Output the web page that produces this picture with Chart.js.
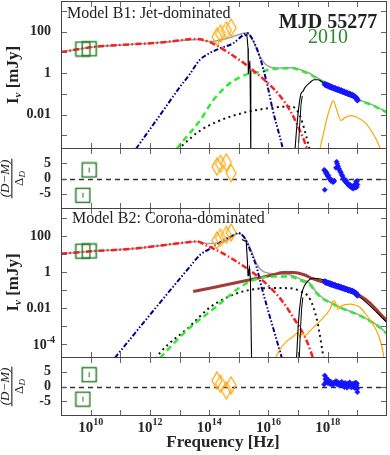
<!DOCTYPE html>
<html><head><meta charset="utf-8">
<script src="https://cdn.jsdelivr.net/npm/chart.js@4.4.1/dist/chart.umd.min.js"></script>
<style>
html,body{margin:0;padding:0;background:#fff;}
#wrap{position:relative;width:390px;height:455px;overflow:hidden;background:#fff;}
canvas{position:absolute;left:0;}
</style></head><body>
<div id="wrap">
<canvas id="c1" width="390" height="150" style="top:0px"></canvas>
<canvas id="c2" width="390" height="64" style="top:146px"></canvas>
<canvas id="c3" width="390" height="153" style="top:206px"></canvas>
<canvas id="c4" width="390" height="100" style="top:355px"></canvas>
</div>
<script>
// ---------- data (log10 frequency [Hz], log10 flux [mJy]) ----------
// Model B1 components
const b1GrayNu  = [9.0, 10.08, 11.33, 12.34, 13.18, 13.6, 14.03, 14.36, 14.70, 15.04, 15.28, 15.48, 15.71, 15.88, 16.05, 16.39, 16.83, 17.06, 17.40, 17.74, 18.41, 19.09, 19.53, 20.0];
const b1GrayF   = [1.01, 1.26, 1.38, 1.47, 1.59, 1.62, 1.52, 1.58, 1.71, 1.87, 1.94, 1.55, 0.80, 0.45, 0.30, 0.25, 0.26, 0.17, -0.02, -0.30, -0.82, -1.30, -1.54, -1.88];
const b1RedNu   = [9.0, 10.08, 11.33, 12.34, 13.01, 13.3, 13.6, 14.13, 14.70, 15.27, 15.94, 16.39, 16.73, 17.16, 17.4];
const b1RedF    = [1.01, 1.26, 1.38, 1.47, 1.58, 1.63, 1.64, 1.42, 0.94, 0.37, -0.43, -1.10, -1.80, -3.09, -4.0];
const b1NavyNu  = [11.53, 12.34, 13.01, 13.35, 13.69, 14.03, 14.36, 14.80, 15.14, 15.28, 15.48, 15.71, 15.95, 16.15, 16.39, 16.52];
const b1NavyF   = [-3.64, -2.02, -0.67, -0.04, 0.65, 0.97, 1.19, 1.43, 1.82, 1.93, 1.58, 0.77, -0.50, -1.80, -3.09, -3.82];
const b1GreenNu = [12.91, 13.08, 13.69, 14.13, 14.60, 15.04, 15.38, 15.71, 16.05, 16.39, 16.83, 17.06, 17.40, 17.74, 18.41, 19.09, 19.53, 20.0];
const b1GreenF  = [-3.64, -3.33, -2.28, -1.32, -0.60, -0.19, -0.01, 0.05, 0.18, 0.23, 0.23, 0.13, -0.06, -0.35, -0.84, -1.32, -1.56, -1.90];
const b1DotNu   = [13.08, 13.69, 14.36, 15.04, 15.71, 16.39, 16.79, 17.06, 17.27, 17.40];
const b1DotF    = [-3.49, -2.77, -2.28, -1.95, -1.75, -1.63, -1.61, -2.04, -3.01, -3.73];
const b1BlkANu  = [15.20, 15.27, 15.31, 15.32, 15.35, 15.37, 15.38, 15.40, 15.41];
const b1BlkAF   = [1.77, 1.88, 1.2, -0.03, 0.45, 0.6, 0.1, -0.5, -4.0];
const b1BlkBNu  = [16.89, 16.96, 17.03, 17.10, 17.16, 17.23, 17.40, 17.54, 17.67, 17.84, 17.95];
const b1BlkBF   = [-3.8, -2.52, -1.56, -0.98, -0.89, -0.70, -0.45, -0.32, -0.32, -0.45, -0.58];
const b1BlkCNu  = [17.00, 17.05, 17.10, 17.14];
const b1BlkCF   = [-3.8, -2.6, -1.5, -1.1];
const b1OrNu    = [17.0, 17.70, 17.84, 17.97, 18.08, 18.19, 18.31, 18.45, 18.58, 18.78, 18.99, 19.26, 19.49, 19.66, 19.80];
const b1OrF     = [-3.9, -3.73, -3.01, -2.19, -1.66, -1.32, -1.80, -2.28, -2.14, -2.04, -2.12, -2.38, -2.82, -3.25, -3.73];

// Model B2 components
const b2GrayNu  = [9.0, 10.0, 11.44, 12.9, 13.35, 13.6, 13.92, 14.48, 14.81, 14.98, 15.21, 15.43, 15.60, 15.77, 16.05, 16.50, 16.84, 17.06, 17.40, 17.60, 17.85, 18.08, 18.30, 18.64, 19.0, 19.31, 19.76, 20.0];
const b2GrayF   = [1.02, 1.15, 1.30, 1.58, 1.67, 1.69, 1.58, 1.67, 2.0, 2.14, 1.88, 1.15, 0.45, 0.1, -0.08, -0.12, -0.2, -0.38, -0.62, -1.08, -1.46, -1.66, -1.85, -2.10, -2.33, -2.59, -3.05, -3.42];
const b2RedNu   = [9.0, 10.0, 11.44, 12.9, 13.35, 13.6, 13.85, 14.14, 14.48, 15.04, 15.60, 16.05, 16.50, 16.84, 17.12, 17.34, 17.51];
const b2RedF    = [1.02, 1.15, 1.30, 1.58, 1.67, 1.70, 1.52, 1.30, 1.02, 0.46, -0.19, -0.84, -1.68, -2.52, -3.26, -4.0, -4.8];
const b2NavyNu  = [10.82, 12.0, 13.35, 13.69, 14.03, 14.48, 14.81, 14.98, 15.21, 15.43, 15.60, 15.77, 15.99, 16.22, 16.45];
const b2NavyF   = [-4.75, -2.37, 0.30, 0.95, 1.30, 1.76, 2.04, 2.17, 1.85, 1.02, 0.27, -0.84, -2.14, -3.44, -4.75];
const b2GreenNu = [12.34, 13.35, 13.92, 14.48, 15.04, 15.60, 16.16, 16.73, 17.06, 17.40, 17.60, 17.85, 18.08, 18.30, 18.64, 19.0, 19.31, 19.76, 20.0];
const b2GreenF  = [-4.75, -3.07, -2.33, -1.59, -0.84, -0.38, -0.25, -0.25, -0.45, -0.70, -1.12, -1.49, -1.68, -1.87, -2.12, -2.35, -2.61, -3.07, -3.44];
const b2DotNu   = [12.2, 12.34, 13.35, 13.69, 14.03, 14.48, 15.04, 15.60, 16.28, 16.73, 17.06, 17.40, 17.63, 17.74, 17.83, 17.87];
const b2DotF    = [-4.8, -4.47, -3.0, -2.45, -1.95, -1.5, -1.12, -0.93, -0.88, -0.90, -1.05, -1.49, -2.6, -3.54, -4.47, -4.8];
const b2BrownNu = [13.46, 15.38, 16.16, 16.5, 16.84, 17.2, 17.51, 18.08, 18.5, 19.09, 19.42, 19.76, 20.0];
const b2BrownF  = [-1.08, -0.43, -0.15, -0.03, -0.03, -0.15, -0.38, -0.66, -0.9, -1.31, -1.7, -2.3, -2.7];
const b2BlkANu  = [15.10, 15.25, 15.29, 15.31, 15.34, 15.36, 15.39, 15.43];
const b2BlkAF   = [1.80, 1.70, 0.6, -0.2, 0.1, 0.25, -0.3, -4.8];
const b2BlkBNu  = [16.93, 16.95, 17.01, 17.09, 17.17, 17.29, 17.51, 17.8, 18.08, 18.5, 19.09, 19.54, 20.0];
const b2BlkBF   = [-4.8, -4.65, -2.8, -1.49, -0.93, -0.57, -0.34, -0.40, -0.55, -0.88, -1.40, -2.05, -2.80];
const b2BlkCNu  = [17.04, 17.08, 17.12, 17.16];
const b2BlkCF   = [-4.8, -3.2, -2.0, -1.4];
const b2OrNu    = [16.22, 16.39, 16.61, 16.84, 17.01, 17.06, 17.15, 17.23, 17.40, 17.63, 17.85, 18.08, 18.19, 18.25, 18.36, 18.47, 18.75, 19.09, 19.37, 19.59, 19.76, 19.87, 19.90];
const b2OrF     = [-4.8, -4.28, -3.84, -3.56, -3.35, -3.63, -3.35, -3.54, -3.26, -2.89, -2.52, -2.05, -1.59, -1.65, -2.05, -1.87, -1.77, -1.96, -2.52, -3.07, -3.72, -4.47, -4.8];

// Observed data
const radioNu = [9.74, 9.95];
const radioF  = [1.16, 1.17];
const radioR1 = [-5.5, 2.8];
const radioR2 = [-4.3, 4.0];
const oirNu = [14.26, 14.38, 14.58, 14.74];
const oirF  = [1.75, 1.90, 2.06, 2.19];
const oirR1 = [3.9, 4.8, 5.3, 1.8];
const oirR2 = [2.0, 0.9, -1.3, 0.4];
const xrNu = [17.90, 17.93, 17.96, 17.99, 18.02, 18.05, 18.08, 18.10, 18.13, 18.16, 18.19, 18.22, 18.25, 18.28, 18.31, 18.34, 18.37, 18.40, 18.43, 18.46, 18.49, 18.52, 18.55, 18.58, 18.61, 18.64, 18.67, 18.70, 18.73, 18.76, 18.79, 18.82, 18.85, 18.88, 18.91, 18.94, 18.96, 18.98, 19.00];
const xrF  = [-0.52, -0.58, -0.56, -0.61, -0.60, -0.65, -0.63, -0.67, -0.69, -0.68, -0.72, -0.74, -0.73, -0.77, -0.78, -0.80, -0.79, -0.83, -0.85, -0.84, -0.88, -0.90, -0.89, -0.93, -0.95, -0.94, -0.98, -1.00, -0.99, -1.03, -1.05, -1.04, -1.08, -1.10, -1.13, -1.16, -1.20, -1.24, -1.30];
const xrResNu = [17.88, 17.90, 17.92, 17.94, 17.96, 17.98, 18.00, 18.02, 18.05, 18.08, 18.11, 18.14, 18.18, 18.22,
                 18.28, 18.30, 18.32, 18.35, 18.38, 18.41, 18.44, 18.47, 18.50, 18.53, 18.56, 18.59, 18.62, 18.65, 18.68, 18.71, 18.74, 18.77, 18.80, 18.83, 18.86, 18.89, 18.91, 18.93, 18.95, 18.96, 18.97, 18.98, 18.99, 19.00];
const xrR1 = [2.8, -3.7, 2.4, 1.8, 2.0, 1.2, 0.8, 1.0, 0.2, -0.3, -0.8, -0.5, -1.2, -0.8,
              3.5, 5.5, 4.8, 4.0, 3.2, 2.5, 2.0, 1.2, 0.8, 0.0, -0.5, -1.0, -0.6, -1.5, -2.0, -1.8, -2.5, -2.2, -3.0, -2.6, -3.3, -2.8, -2.0, -3.0, -2.4, -1.0, -1.8, -2.8, -0.8, -2.0];
const xrR2 = [0.7, 3.7, 2.5, 1.5, 2.8, 1.8, 1.2, 2.2, 1.5, 0.8, 1.6, 1.0, 0.5, 1.4,
              1.8, 0.9, 1.5, 0.6, 1.2, 0.3, 1.0, 1.6, 0.4, 0.9, -0.2, 1.2, 0.5, -0.4, 1.0, 0.2, 1.4, 0.6, -0.3, 0.8, 0.1, 1.1, -0.5, 0.7, 1.3, -0.2, 0.4, 1.0, -0.8, -1.9];

// Axis settings (exponents)
const xLo = 9, xHi = 20;
const xTickExps = [10, 11, 12, 13, 14, 15, 16, 17, 18, 19];
const xLabelExps = [10, 12, 14, 16, 18];
const y1Lo = -3.65, y1Hi = 3.47;
const y1TickExps = [-3, -2, -1, 0, 1, 2, 3];
const y2Lo = -4.76, y2Hi = 3.55;
const y2TickExps = [-4, -3, -2, -1, 0, 1, 2, 3];
const yLabels1 = {2: '100', 0: '1', '-2': '0.01'};
const yLabels2 = {2: '100', 0: '1', '-2': '0.01'};
const resTicks = [-5, 0, 5];

// ---------- helpers ----------
const SERIF = '"Liberation Serif", "DejaVu Serif", serif';
const P = (nu, f) => nu.map((v, i) => ({x: Math.pow(10, v), y: Math.pow(10, f[i])}));
const R = (nu, r) => nu.map((v, i) => ({x: Math.pow(10, v), y: r[i]}));
function line(data, color, width, dash, smooth) {
  return {data, borderColor: color, backgroundColor: color, borderWidth: width, borderDash: dash || [],
          pointRadius: 0, fill: false, showLine: true,
          cubicInterpolationMode: smooth === false ? 'default' : 'monotone', tension: 0};
}
function pts(data, style, radius, color) {
  return {data, showLine: false, pointStyle: style, pointRadius: radius, pointHoverRadius: radius,
          borderColor: color, backgroundColor: color, pointBorderWidth: 0.6};
}
function mk(w, h, draw) { const c = document.createElement('canvas'); c.width = w; c.height = h; draw(c.getContext('2d'), w, h); return c; }
const GREEN_SQ = '#1f7a1f', ORANGE = '#ffa500', XBLUE = '#1515ff';
const sqMain = mk(17, 17, g => { g.strokeStyle = GREEN_SQ; g.lineWidth = 1.4; g.strokeRect(1.5, 1.5, 14, 14); });
const sqRes = mk(17, 17, g => { g.strokeStyle = GREEN_SQ; g.lineWidth = 1.4; g.strokeRect(1.5, 1.5, 14, 14);
  g.lineWidth = 1; g.beginPath(); g.moveTo(8.5, 6); g.lineTo(8.5, 11); g.stroke(); });
const diamond = mk(12, 19, (g, w, h) => { g.strokeStyle = ORANGE; g.lineWidth = 1.2; g.beginPath();
  g.moveTo(w / 2, 1); g.lineTo(w - 1, h / 2); g.lineTo(w / 2, h - 1); g.lineTo(1, h / 2); g.closePath(); g.stroke(); });

const C_RED = '#ff1c1c', C_NAVY = '#00008f', C_GREEN = '#30ec30', C_GRAY = '#a3a3a3', C_BROWN = '#a33a36';
const DASH_RED = [6, 2.5, 1.5, 2.5], DASH_NAVY = [5, 2, 1.5, 2, 1.5, 2], DASH_GREEN = [6, 4], DASH_DOT = [2, 3.5];

function mainSets(m) {
  const list = [];
  list.push(line(P(m.grayNu, m.grayF), C_GRAY, 1.6, []));
  if (m.brownNu) list.push(line(P(m.brownNu, m.brownF), C_BROWN, 3, []));
  list.push(line(P(m.dotNu, m.dotF), '#111', 2, DASH_DOT));
  list.push(line(P(m.greenNu, m.greenF), C_GREEN, 2.5, DASH_GREEN));
  list.push(line(P(m.navyNu, m.navyF), C_NAVY, 2, DASH_NAVY));
  list.push(line(P(m.redNu, m.redF), C_RED, 2.5, DASH_RED));
  list.push(line(P(m.orNu, m.orF), ORANGE, 1.2, []));
  list.push(line(P(m.bANu, m.bAF), '#000', 1.1, [], false));
  list.push(line(P(m.bBNu, m.bBF), '#000', 1.1, [], true));
  list.push(line(P(m.bCNu, m.bCF), '#000', 1.0, [], false));
  list.push(pts(P(radioNu, radioF), sqMain, 6, GREEN_SQ));
  list.push(pts(P(oirNu, oirF), diamond, 6, ORANGE));
  list.push(pts(P(xrNu, xrF), 'rectRot', 3, XBLUE));
  return list.reverse();
}
function resSets(r) {
  const list = [];
  list.push(pts(R(radioNu, r.radio), sqRes, 6, GREEN_SQ));
  list.push(pts(R(oirNu, r.oir), diamond, 6, ORANGE));
  list.push(pts(R(xrResNu, r.xr), 'rectRot', 2.6, XBLUE));
  return list.reverse();
}

function drawRot(ctx, bx, cy, parts) {
  ctx.save(); ctx.translate(bx, cy); ctx.rotate(-Math.PI / 2);
  let total = 0;
  parts.forEach(p => { ctx.font = p.font; p.w = ctx.measureText(p.t).width; total += p.w; });
  let x = -total / 2;
  parts.forEach(p => { ctx.font = p.font; ctx.fillText(p.t, x, p.dy || 0); x += p.w; });
  ctx.restore();
}
function drawYTitle(ctx, cy) {
  ctx.fillStyle = '#222'; ctx.textBaseline = 'alphabetic'; ctx.textAlign = 'left';
  drawRot(ctx, 18, cy, [
    {t: 'I', font: 'bold 17px ' + SERIF},
    {t: '\u03BD', font: 'italic bold 11px ' + SERIF, dy: 3},
    {t: ' [mJy]', font: 'bold 17px ' + SERIF}
  ]);
}
function drawFrac(ctx, cy) {
  ctx.save(); ctx.fillStyle = '#222'; ctx.textBaseline = 'alphabetic'; ctx.textAlign = 'left';
  ctx.translate(0, cy); ctx.rotate(-Math.PI / 2);
  ctx.font = 'italic 13px ' + SERIF;
  const num = '(D\u2212M)';
  const wn = ctx.measureText(num).width;
  ctx.fillText(num, -wn / 2, 8.5);
  ctx.fillRect(-wn / 2 - 1, 11.3, wn + 2, 1.1);
  ctx.font = '13px ' + SERIF; const wd1 = ctx.measureText('\u0394').width;
  ctx.font = 'italic 9px ' + SERIF; const wd2 = ctx.measureText('D').width;
  const s = -(wd1 + wd2) / 2;
  ctx.font = '13px ' + SERIF; ctx.fillText('\u0394', s, 22.5);
  ctx.font = 'italic 9px ' + SERIF; ctx.fillText('D', s + wd1, 25);
  ctx.restore();
}

function decoPlugin(cfg) {
  return {
    id: 'deco',
    beforeDatasetsDraw(chart) {
      if (!cfg.zero) return;
      const {ctx, chartArea: a, scales: {y}} = chart;
      const py = Math.round(y.getPixelForValue(0)) + 0.5;
      ctx.save(); ctx.strokeStyle = '#333'; ctx.lineWidth = 1.3; ctx.setLineDash([5, 4]);
      ctx.beginPath(); ctx.moveTo(a.left, py); ctx.lineTo(a.right, py); ctx.stroke(); ctx.restore();
    },
    afterDatasetsDraw(chart) {
      const {ctx, chartArea: a, scales: {x, y}} = chart;
      ctx.save();
      ctx.strokeStyle = '#666'; ctx.lineWidth = 1; ctx.beginPath();
      xTickExps.forEach(e => {
        const px = Math.round(x.getPixelForValue(Math.pow(10, e))) + 0.5;
        ctx.moveTo(px, a.top); ctx.lineTo(px, a.top + 6);
        ctx.moveTo(px, a.bottom); ctx.lineTo(px, a.bottom - 6);
      });
      cfg.yTicks.forEach(v => {
        const py = Math.round(y.getPixelForValue(v)) + 0.5;
        ctx.moveTo(a.left, py); ctx.lineTo(a.left + 6, py);
        ctx.moveTo(a.right, py); ctx.lineTo(a.right - 6, py);
      });
      ctx.stroke();
      ctx.strokeStyle = '#444'; ctx.lineWidth = 1;
      const x0 = Math.floor(a.left) + 0.5, y0 = Math.floor(a.top) + 0.5;
      const x1 = Math.ceil(a.right) - 0.5, y1 = Math.ceil(a.bottom) - 0.5;
      ctx.strokeRect(x0, y0, x1 - x0, y1 - y0);
      if (cfg.draw) cfg.draw(ctx, chart);
      ctx.restore();
    }
  };
}

function fitY(s) { s.width = 61; s.paddingTop = 0; s.paddingBottom = 0; }
function yLogScale(lo, hi, tickExps, labels) {
  return {
    type: 'logarithmic', min: Math.pow(10, lo), max: Math.pow(10, hi),
    grid: {display: false, drawTicks: false}, border: {display: false},
    afterBuildTicks: s => { s.ticks = tickExps.map(e => ({value: Math.pow(10, e)})); },
    afterFit: fitY,
    ticks: {autoSkip: false, padding: 10, color: '#262626', font: {family: SERIF, size: 14, weight: 'bold'},
            callback: v => { const e = Math.round(Math.log10(v)); return labels[e] !== undefined ? labels[e] : ''; }}
  };
}
function yResScale() {
  return {
    type: 'linear', min: -10, max: 10,
    grid: {display: false, drawTicks: false}, border: {display: false},
    afterBuildTicks: s => { s.ticks = resTicks.map(v => ({value: v})); },
    afterFit: fitY,
    ticks: {autoSkip: false, padding: 10, color: '#262626', font: {family: SERIF, size: 14, weight: 'bold'},
            callback: v => String(v)}
  };
}
function build(id, padTop, padBottom, yScale, datasets, plugin) {
  return new Chart(document.getElementById(id), {
    type: 'line',
    data: {datasets},
    options: {
      responsive: false, animation: false, events: [],
      layout: {autoPadding: false, padding: {left: 0, right: 3, top: padTop, bottom: padBottom}},
      plugins: {legend: {display: false}, tooltip: {enabled: false}},
      scales: {
        x: {type: 'logarithmic', min: Math.pow(10, xLo), max: Math.pow(10, xHi), display: false},
        y: yScale
      }
    },
    plugins: [plugin]
  });
}

// ---------- charts ----------
build('c1', 1, 1, yLogScale(y1Lo, y1Hi, y1TickExps, yLabels1),
  mainSets({grayNu: b1GrayNu, grayF: b1GrayF, redNu: b1RedNu, redF: b1RedF, navyNu: b1NavyNu, navyF: b1NavyF,
            greenNu: b1GreenNu, greenF: b1GreenF, dotNu: b1DotNu, dotF: b1DotF, orNu: b1OrNu, orF: b1OrF,
            bANu: b1BlkANu, bAF: b1BlkAF, bBNu: b1BlkBNu, bBF: b1BlkBF, bCNu: b1BlkCNu, bCF: b1BlkCF}),
  decoPlugin({yTicks: y1TickExps.map(e => Math.pow(10, e)), draw: (ctx, chart) => {
    ctx.fillStyle = '#222'; ctx.textAlign = 'left'; ctx.textBaseline = 'alphabetic';
    ctx.font = '16px ' + SERIF; ctx.fillText('Model B1: Jet-dominated', 67, 18);
    ctx.textAlign = 'center';
    ctx.font = 'bold 20px ' + SERIF; ctx.fillText('MJD 55277', 328, 27.5);
    ctx.fillStyle = '#2b8a2b'; ctx.font = '20px ' + SERIF; ctx.fillText('2010', 328, 43);
    drawYTitle(ctx, 75);
  }}));

build('c2', 2, 1, yResScale(),
  resSets({radio: radioR1, oir: oirR1, xr: xrR1}),
  decoPlugin({yTicks: resTicks, zero: true, draw: (ctx) => drawFrac(ctx, 32.5)}));

build('c3', 2, 1, yLogScale(y2Lo, y2Hi, y2TickExps, yLabels2),
  mainSets({grayNu: b2GrayNu, grayF: b2GrayF, redNu: b2RedNu, redF: b2RedF, navyNu: b2NavyNu, navyF: b2NavyF,
            greenNu: b2GreenNu, greenF: b2GreenF, dotNu: b2DotNu, dotF: b2DotF, orNu: b2OrNu, orF: b2OrF,
            brownNu: b2BrownNu, brownF: b2BrownF,
            bANu: b2BlkANu, bAF: b2BlkAF, bBNu: b2BlkBNu, bBF: b2BlkBF, bCNu: b2BlkCNu, bCF: b2BlkCF}),
  decoPlugin({yTicks: y2TickExps.map(e => Math.pow(10, e)), draw: (ctx, chart) => {
    ctx.fillStyle = '#222'; ctx.textAlign = 'left'; ctx.textBaseline = 'alphabetic';
    ctx.font = '16px ' + SERIF; ctx.fillText('Model B2: Corona-dominated', 72, 16.5);
    const py = chart.scales.y.getPixelForValue(Math.pow(10, -4));
    ctx.fillStyle = '#262626';
    ctx.font = 'bold 10px ' + SERIF; const we = ctx.measureText('-4').width;
    ctx.font = 'bold 14px ' + SERIF; const wb = ctx.measureText('10').width;
    const right = 55;
    ctx.fillText('10', right - we - wb, py + 5);
    ctx.font = 'bold 10px ' + SERIF; ctx.fillText('-4', right - we, py - 1);
    drawYTitle(ctx, 76.5);
  }}));

build('c4', 2, 39, yResScale(),
  resSets({radio: radioR2, oir: oirR2, xr: xrR2}),
  decoPlugin({yTicks: resTicks, zero: true, draw: (ctx, chart) => {
    drawFrac(ctx, 31.5);
    const xs = chart.scales.x;
    ctx.fillStyle = '#262626'; ctx.textAlign = 'left'; ctx.textBaseline = 'alphabetic';
    xLabelExps.forEach(e => {
      const px = xs.getPixelForValue(Math.pow(10, e));
      ctx.font = 'bold 15px ' + SERIF; const wb = ctx.measureText('10').width;
      ctx.font = 'bold 10px ' + SERIF; const we = ctx.measureText(String(e)).width;
      const s = px - (wb + we) / 2;
      ctx.font = 'bold 15px ' + SERIF; ctx.fillText('10', s, 77);
      ctx.font = 'bold 10px ' + SERIF; ctx.fillText(String(e), s + wb, 70);
    });
    ctx.textAlign = 'center'; ctx.font = 'bold 17px ' + SERIF;
    ctx.fillText('Frequency [Hz]', 223, 91.5);
  }}));
</script>
</body></html>
